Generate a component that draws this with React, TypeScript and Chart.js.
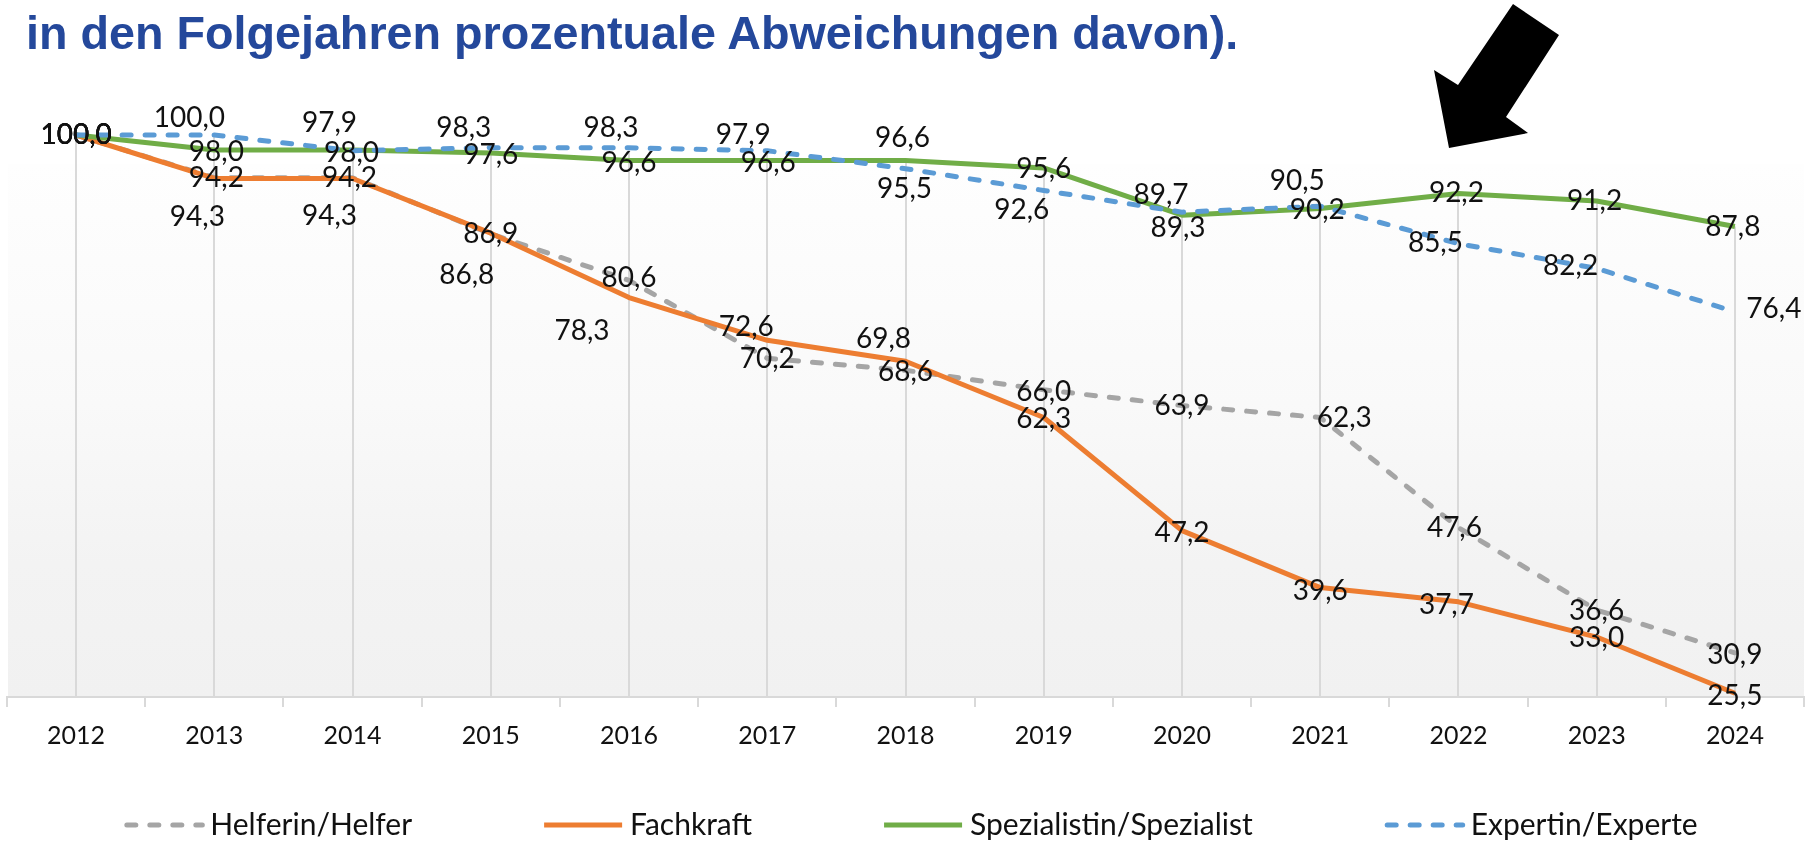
import React, { useEffect, useRef } from "react";
import { Chart, registerables } from "chart.js";

Chart.register(...registerables);

// ---------- data ----------
const years = ["2012", "2013", "2014", "2015", "2016", "2017", "2018", "2019", "2020", "2021", "2022", "2023", "2024"];

const helfer = [100.0, 94.3, 94.3, 86.8, 80.6, 70.2, 68.6, 66.0, 63.9, 62.3, 47.6, 36.6, 30.9];
const fachkraft = [100.0, 94.2, 94.2, 86.9, 78.3, 72.6, 69.8, 62.3, 47.2, 39.6, 37.7, 33.0, 25.5];
const spezialist = [100.0, 98.0, 98.0, 97.6, 96.6, 96.6, 96.6, 95.6, 89.3, 90.2, 92.2, 91.2, 87.8];
const experte = [100.0, 100.0, 97.9, 98.3, 98.3, 97.9, 95.5, 92.6, 89.7, 90.5, 85.5, 82.2, 76.4];

const seriesNames = ["Helferin/Helfer", "Fachkraft", "Spezialistin/Spezialist", "Expertin/Experte"];

const yMin = 25;
const yMax = 100;

const titleText = "in den Folgejahren prozentuale Abweichungen davon).";

// ---------- styling (label offsets in px, relative to each point) ----------
const helferLabelOffsets = [[0, 0], [-17, 39], [-23, 38], [-24, 41], [0, -2], [0, 1], [0, 2], [0, 2], [0, 0], [24, 0], [-4, 0], [0, 1], [0, 2]];
const fachkraftLabelOffsets = [[0, 0], [2, 0], [-3, 0], [0, 1], [-47, 33], [-21, -13], [-22, -22], [0, 1], [0, 2], [0, 3], [-12, 3], [0, 1], [0, 3]];
const spezialistLabelOffsets = [[0, 0], [2, 2], [-1, 3], [0, 2], [0, 2], [1, 2], [-3, -23], [0, 1], [-4, 13], [-3, 2], [-2, 0], [-2, 0], [-2, 1]];
const experteLabelOffsets = [[0, 0], [-25, -17], [-23, -28], [-27, -20], [-18, -20], [-24, -16], [-1, 20], [-22, 20], [-21, -17], [-23, -25], [-23, -1], [-26, -2], [39, -3]];

const colors = ["#A5A5A5", "#ED7D31", "#70AD47", "#5B9BD5"];
const dashes = [[9, 14], [], [], [9, 14]];
const labelFont = "28px Lato";
const labelColor = "#111111";

const fmt = (v: number) => v.toFixed(1).replace(".", ",");

const plotBackground = {
  id: "plotBackground",
  beforeDraw(chart: any) {
    const { ctx, chartArea: a } = chart;
    const top = a.top + 29;
    const g = ctx.createLinearGradient(0, top, 0, a.bottom);
    g.addColorStop(0, "#fefefe");
    g.addColorStop(0.45, "#f9f9f9");
    g.addColorStop(0.75, "#f3f3f3");
    g.addColorStop(1, "#f1f1f1");
    ctx.save();
    ctx.fillStyle = g;
    ctx.fillRect(a.left + 1, top, a.right - a.left - 1, a.bottom - top);
    ctx.restore();
  },
};

const dropLines = {
  id: "dropLines",
  beforeDatasetsDraw(chart: any) {
    const { ctx, chartArea: a, scales } = chart;
    const x = scales.x;
    const y = scales.y;
    ctx.save();
    ctx.strokeStyle = "#d9d9d9";
    ctx.lineWidth = 2;
    chart.data.labels.forEach((_: any, i: number) => {
      const top = Math.max(...chart.data.datasets.map((d: any) => d.data[i]));
      const px = Math.round(x.getPixelForValue(i));
      ctx.beginPath();
      ctx.moveTo(px, y.getPixelForValue(top));
      ctx.lineTo(px, a.bottom);
      ctx.stroke();
    });
    ctx.restore();
  },
};

const dataLabels = {
  id: "dataLabels",
  afterDatasetsDraw(chart: any) {
    const { ctx } = chart;
    ctx.save();
    ctx.font = labelFont;
    ctx.fillStyle = labelColor;
    ctx.textAlign = "center";
    ctx.textBaseline = "middle";
    chart.data.datasets.forEach((ds: any, di: number) => {
      const meta = chart.getDatasetMeta(di);
      const offs = ds.labelOffsets || [];
      meta.data.forEach((pt: any, i: number) => {
        const o = offs[i] || [0, 0];
        ctx.fillText(fmt(ds.data[i]), pt.x + o[0], pt.y + o[1]);
      });
    });
    ctx.restore();
  },
};

const customLegend = {
  id: "customLegend",
  afterDraw(chart: any) {
    const { ctx } = chart;
    const sample = 78;
    const sampleGap = 8;
    const itemGap = 132;
    const yMid = 825;
    ctx.save();
    ctx.font = "30px Lato";
    const widths = chart.data.datasets.map((d: any) => ctx.measureText(d.label).width);
    const total = widths.reduce((s: number, w: number) => s + sample + sampleGap + w, 0) + itemGap * (widths.length - 1);
    let x = 911 - total / 2;
    chart.data.datasets.forEach((d: any, i: number) => {
      ctx.strokeStyle = d.borderColor;
      ctx.lineWidth = 5;
      ctx.lineCap = (d.borderDash && d.borderDash.length) ? "round" : "butt";
      ctx.setLineDash(d.borderDash || []);
      ctx.beginPath();
      ctx.moveTo(x + 2.5 * ((d.borderDash && d.borderDash.length) ? 1 : 0), yMid);
      ctx.lineTo(x + sample, yMid);
      ctx.stroke();
      ctx.setLineDash([]);
      ctx.fillStyle = "#111111";
      ctx.textAlign = "left";
      ctx.textBaseline = "middle";
      ctx.fillText(d.label, x + sample + sampleGap, yMid);
      x += sample + sampleGap + widths[i] + itemGap;
    });
    ctx.restore();
  },
};

export default function App() {
  const canvasRef = useRef<HTMLCanvasElement | null>(null);

  useEffect(() => {
    if (!canvasRef.current) return;
    const seriesData = [helfer, fachkraft, spezialist, experte];
    const offsets = [helferLabelOffsets, fachkraftLabelOffsets, spezialistLabelOffsets, experteLabelOffsets];
    const chart = new Chart(canvasRef.current, {
      type: "line",
      data: {
        labels: years,
        datasets: seriesData.map((d, i) => ({
          label: seriesNames[i],
          data: d,
          borderColor: colors[i],
          backgroundColor: colors[i],
          borderWidth: 5,
          borderDash: dashes[i],
          borderCapStyle: dashes[i].length ? "round" : "butt",
          pointRadius: 0,
          fill: false,
          tension: 0,
          clip: false,
          borderJoinStyle: "round",
          order: 4 - i,
          labelOffsets: offsets[i],
        })) as any,
      },
      options: {
        animation: false,
        responsive: false,
        devicePixelRatio: 1,
        events: [],
        layout: { padding: { left: 7, right: 4, top: 135, bottom: 77 } },
        plugins: {
          legend: { display: false },
          tooltip: { enabled: false },
          title: { display: false },
        },
        scales: {
          x: {
            type: "category",
            offset: true,
            grid: {
              offset: true,
              drawOnChartArea: false,
              drawTicks: true,
              tickLength: 10,
              color: "#d9d9d9",
              lineWidth: 2,
            },
            border: { display: true, color: "#d9d9d9", width: 2 },
            ticks: {
              font: { family: "Lato", size: 25 },
              color: "#111111",
              padding: 14,
              maxRotation: 0,
              autoSkip: false,
            },
          },
          y: {
            display: false,
            min: yMin,
            max: yMax,
          },
        },
      },
      plugins: [plotBackground, dropLines, dataLabels, customLegend],
    });
    return () => chart.destroy();
  }, []);

  return (
    <div style={{ position: "absolute", left: 0, top: 0, width: 1808, height: 842, background: "#ffffff", overflow: "hidden" }}>
      <canvas ref={canvasRef} width={1808} height={842} style={{ position: "absolute", left: 0, top: 0, width: 1808, height: 842 }} />
      <div
        style={{
          position: "absolute",
          left: 26,
          top: 10,
          fontFamily: "'Liberation Sans', Arial, sans-serif",
          fontWeight: "bold",
          fontSize: 46.7,
          lineHeight: "46px",
          color: "#24489b",
          whiteSpace: "nowrap",
        }}
      >
        {titleText}
      </div>
      <svg width={1808} height={842} style={{ position: "absolute", left: 0, top: 0, pointerEvents: "none" }}>
        <polygon points="1513,4 1559,35 1506,117 1528,133 1449,148 1434,70 1458,85" fill="#000000" />
      </svg>
    </div>
  );
}
